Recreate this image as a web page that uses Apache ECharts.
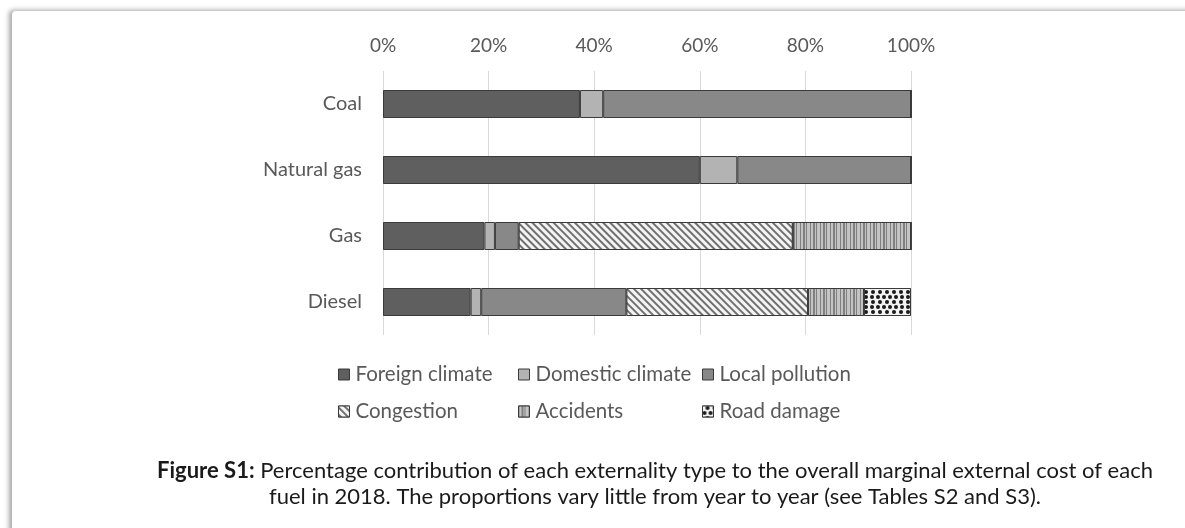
<!DOCTYPE html>
<html>
<head>
<meta charset="utf-8">
<script src="https://cdn.jsdelivr.net/npm/echarts@6/dist/echarts.min.js"></script>
<style>
html,body{margin:0;padding:0;background:#fff;width:1185px;height:528px;overflow:hidden;}
#page{position:absolute;left:12px;top:11px;width:1300px;height:700px;background:#fff;border-top-left-radius:4px;box-shadow:-3px -1px 5px rgba(0,0,0,0.35);}
#chart{position:absolute;left:0;top:0;width:1185px;height:528px;}
</style>
</head>
<body>
<div id="page"></div>
<div id="chart"></div>
<script>
const categories = ['Coal', 'Natural gas', 'Gas', 'Diesel'];
const seriesNames = ['Foreign climate', 'Domestic climate', 'Local pollution', 'Congestion', 'Accidents', 'Road damage'];
const foreignClimate  = [37.3, 60.0, 19.2, 16.6];
const domesticClimate = [4.4, 7.1, 2.0, 2.0];
const localPollution  = [58.3, 32.9, 4.5, 27.5];
const congestion      = [0, 0, 51.9, 34.4];
const accidents       = [0, 0, 22.4, 10.6];
const roadDamage      = [0, 0, 0, 8.9];
const xTicks = [0, 20, 40, 60, 80, 100];

const values = [foreignClimate, domesticClimate, localPollution, congestion, accidents, roadDamage];
const FONT = 'Lato';
const styles = [
  {color: '#5f5f5f'},
  {color: '#b3b3b3'},
  {color: '#888888'},
  {color: '#ffffff', decal: {symbol: 'rect', color: '#707070', backgroundColor: '#f4f4f4', dashArrayX: [1, 0], dashArrayY: [1.3, 2.2], rotation: Math.PI / 4}},
  {color: '#b8b8b8', decal: {symbol: 'rect', color: '#808080', backgroundColor: '#c4c4c4', dashArrayX: [[1, 2, 2, 1, 1, 3]], dashArrayY: [1, 0]}},
  {color: '#ffffff', decal: {symbol: 'circle', color: '#1a1a1a', backgroundColor: '#f2f2f2', dashArrayX: [[4, 2], [0, 3, 4, 0]], dashArrayY: [4, 1], symbolSize: 1}}
];

const series = seriesNames.map((name, i) => ({
  name: name,
  type: 'bar',
  stack: 'total',
  barWidth: 28,
  data: values[i],
  itemStyle: Object.assign({borderColor: '#3a3a3a', borderWidth: 1}, styles[i]),
  emphasis: {disabled: true}
}));

const legendCols = [338, 518, 702];
const legendRows = [376, 413];
const legends = seriesNames.map((name, i) => ({
  data: [name],
  left: legendCols[i % 3],
  top: legendRows[Math.floor(i / 3)] - 12,
  icon: 'rect',
  itemWidth: 11,
  itemHeight: 11,
  itemGap: 0,
  padding: 0,
  selectedMode: false,
  textStyle: {fontFamily: FONT, fontSize: 20.5, color: '#595959', padding: [0, 0, 0, 1]},
  itemStyle: {borderColor: '#3a3a3a', borderWidth: 1}
}));

const chart = echarts.init(document.getElementById('chart'), null, {renderer: 'canvas'});
chart.setOption({
  backgroundColor: 'transparent',
  animation: false,
  title: {
    text: '{b|Figure S1:} Percentage contribution of each externality type to the overall marginal external cost of each\nfuel in 2018. The proportions vary little from year to year (see Tables S2 and S3).',
    left: 650,
    top: 453,
    textAlign: 'center',
    textStyle: {
      fontFamily: FONT, fontSize: 22, fontWeight: 'normal', color: '#1a1a1a', lineHeight: 26,
      rich: {b: {fontFamily: FONT, fontSize: 22, fontWeight: 'bold', color: '#1a1a1a', lineHeight: 26}}
    }
  },
  legend: legends,
  grid: {left: 383, right: 274, top: 71, bottom: 193, containLabel: false},
  xAxis: {
    type: 'value',
    position: 'top',
    min: 0,
    max: 100,
    interval: 20,
    axisLine: {show: false},
    axisTick: {show: false},
    axisLabel: {formatter: '{value}%', fontFamily: FONT, fontSize: 19, color: '#595959', margin: 16},
    splitLine: {show: true, lineStyle: {color: '#d9d9d9', width: 1}}
  },
  yAxis: {
    type: 'category',
    inverse: true,
    data: categories,
    axisLine: {show: false},
    axisTick: {show: false},
    axisLabel: {fontFamily: FONT, fontSize: 20, color: '#595959', margin: 21}
  },
  series: series
});
</script>
</body>
</html>
